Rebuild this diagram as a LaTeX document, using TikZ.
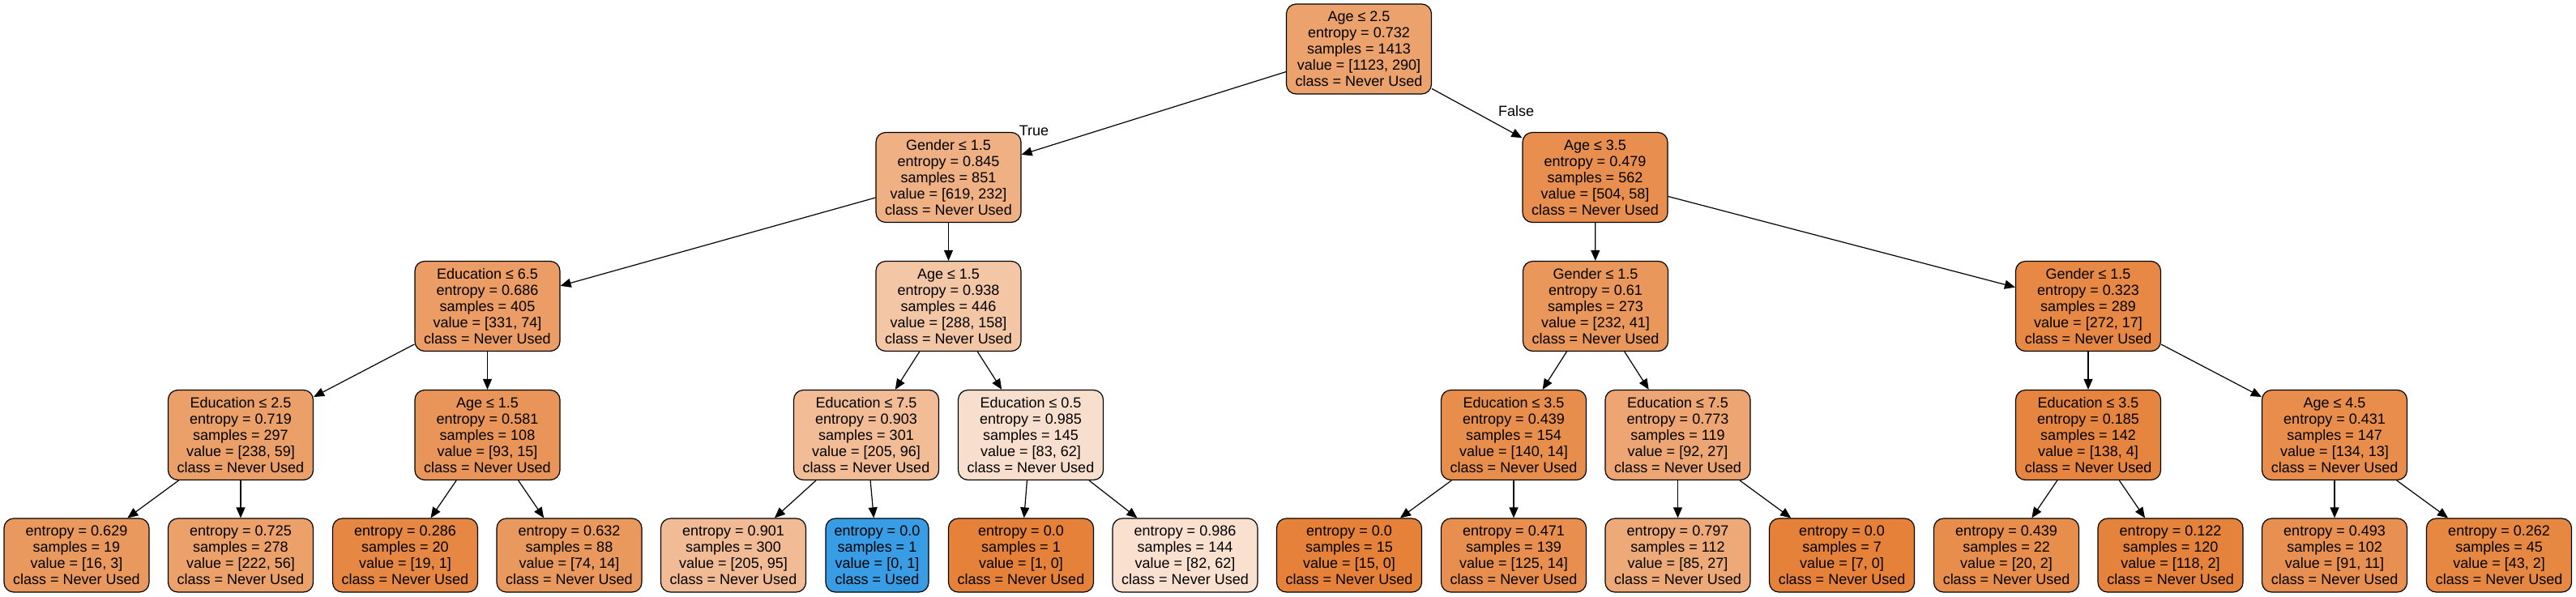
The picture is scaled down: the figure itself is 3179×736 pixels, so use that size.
\documentclass[tikz,border=0pt]{standalone}
\usepackage{fontspec}
\setmainfont{Liberation Sans}
\usetikzlibrary{arrows.meta}
\definecolor{ocol}{RGB}{229,129,57}
\definecolor{bcol}{RGB}{57,157,229}
\begin{document}
\begin{tikzpicture}[x=1pt,y=-1pt,
  tnode/.style={draw=black, line width=1.2pt, rounded corners=12pt, align=center,
    inner sep=0pt, minimum width=179pt, text=black,
    font=\fontsize{18pt}{20pt}\selectfont},
  inode/.style={tnode, minimum height=111pt, fill=ocol!#1!white},
  lnode/.style={tnode, minimum height=91pt, fill=ocol!#1!white},
  elabel/.style={font=\fontsize{18pt}{20pt}\selectfont, text=black, inner sep=0pt},
  edge/.style={draw=black, line width=1.2pt, -{Triangle[length=13pt,width=11pt]}}
]
\useasboundingbox (0,0) rectangle (3179,736);
% level 0
\node[inode=74.2] (root) at (1677,60.5) {Age ≤ 2.5\\entropy = 0.732\\samples = 1413\\value = [1123, 290]\\class = Never Used};
% level 1
\node[inode=62.5] (gL) at (1170.5,219) {Gender ≤ 1.5\\entropy = 0.845\\samples = 851\\value = [619, 232]\\class = Never Used};
\node[inode=88.5] (a35) at (1968.5,219) {Age ≤ 3.5\\entropy = 0.479\\samples = 562\\value = [504, 58]\\class = Never Used};
% level 2
\node[inode=77.6] (e65) at (601.5,378) {Education ≤ 6.5\\entropy = 0.686\\samples = 405\\value = [331, 74]\\class = Never Used};
\node[inode=45.1] (a15b) at (1170.5,378) {Age ≤ 1.5\\entropy = 0.938\\samples = 446\\value = [288, 158]\\class = Never Used};
\node[inode=82.3] (gRL) at (1969,378) {Gender ≤ 1.5\\entropy = 0.61\\samples = 273\\value = [232, 41]\\class = Never Used};
\node[inode=93.75] (gRR) at (2577,378) {Gender ≤ 1.5\\entropy = 0.323\\samples = 289\\value = [272, 17]\\class = Never Used};
% level 3
\node[inode=75.2] (e25) at (297,537) {Education ≤ 2.5\\entropy = 0.719\\samples = 297\\value = [238, 59]\\class = Never Used};
\node[inode=83.9] (a15c) at (601.5,537) {Age ≤ 1.5\\entropy = 0.581\\samples = 108\\value = [93, 15]\\class = Never Used};
\node[inode=53.2] (e75) at (1069,537) {Education ≤ 7.5\\entropy = 0.903\\samples = 301\\value = [205, 96]\\class = Never Used};
\node[inode=25.3] (e05) at (1272,537) {Education ≤ 0.5\\entropy = 0.985\\samples = 145\\value = [83, 62]\\class = Never Used};
\node[inode=90] (e35a) at (1868,537) {Education ≤ 3.5\\entropy = 0.439\\samples = 154\\value = [140, 14]\\class = Never Used};
\node[inode=70.65] (e75b) at (2070.5,537) {Education ≤ 7.5\\entropy = 0.773\\samples = 119\\value = [92, 27]\\class = Never Used};
\node[inode=97.1] (e35b) at (2577,537) {Education ≤ 3.5\\entropy = 0.185\\samples = 142\\value = [138, 4]\\class = Never Used};
\node[inode=90.3] (a45) at (2881,537) {Age ≤ 4.5\\entropy = 0.431\\samples = 147\\value = [134, 13]\\class = Never Used};
% leaves
\node[lnode=81.25] (l1) at (94.5,685.5) {entropy = 0.629\\samples = 19\\value = [16, 3]\\class = Never Used};
\node[lnode=74.8] (l2) at (297,685.5) {entropy = 0.725\\samples = 278\\value = [222, 56]\\class = Never Used};
\node[lnode=94.7] (l3) at (500,685.5) {entropy = 0.286\\samples = 20\\value = [19, 1]\\class = Never Used};
\node[lnode=81.1] (l4) at (702.5,685.5) {entropy = 0.632\\samples = 88\\value = [74, 14]\\class = Never Used};
\node[lnode=53.7] (l5) at (905,685.5) {entropy = 0.901\\samples = 300\\value = [205, 95]\\class = Never Used};
\node[tnode, minimum height=91pt, minimum width=127pt, fill=bcol] (l6) at (1082.5,685.5) {entropy = 0.0\\samples = 1\\value = [0, 1]\\class = Used};
\node[lnode=100] (l7) at (1260,685.5) {entropy = 0.0\\samples = 1\\value = [1, 0]\\class = Never Used};
\node[lnode=24.4] (l8) at (1462.5,685.5) {entropy = 0.986\\samples = 144\\value = [82, 62]\\class = Never Used};
\node[lnode=100] (l9) at (1665,685.5) {entropy = 0.0\\samples = 15\\value = [15, 0]\\class = Never Used};
\node[lnode=88.8] (l10) at (1868,685.5) {entropy = 0.471\\samples = 139\\value = [125, 14]\\class = Never Used};
\node[lnode=68.2] (l11) at (2070.5,685.5) {entropy = 0.797\\samples = 112\\value = [85, 27]\\class = Never Used};
\node[lnode=100] (l12) at (2273,685.5) {entropy = 0.0\\samples = 7\\value = [7, 0]\\class = Never Used};
\node[lnode=90] (l13) at (2476,685.5) {entropy = 0.439\\samples = 22\\value = [20, 2]\\class = Never Used};
\node[lnode=98.3] (l14) at (2678.5,685.5) {entropy = 0.122\\samples = 120\\value = [118, 2]\\class = Never Used};
\node[lnode=87.9] (l15) at (2881,685.5) {entropy = 0.493\\samples = 102\\value = [91, 11]\\class = Never Used};
\node[lnode=95.3] (l16) at (3084,685.5) {entropy = 0.262\\samples = 45\\value = [43, 2]\\class = Never Used};
% edge labels
\node[elabel] (ltrue) at (1276,161) {True};
\node[elabel] (lfalse) at (1871,137) {False};
% edges
\foreach \a/\b in {root/gL, root/a35, gL/e65, gL/a15b, a35/gRL, a35/gRR,
  e65/e25, e65/a15c, a15b/e75, a15b/e05, gRL/e35a, gRL/e75b, gRR/e35b, gRR/a45,
  e25/l1, e25/l2, a15c/l3, a15c/l4, e75/l5, e75/l6, e05/l7, e05/l8,
  e35a/l9, e35a/l10, e75b/l11, e75b/l12, e35b/l13, e35b/l14, a45/l15, a45/l16}
  \draw[edge] (\a) -- (\b);
\end{tikzpicture}
\end{document}
